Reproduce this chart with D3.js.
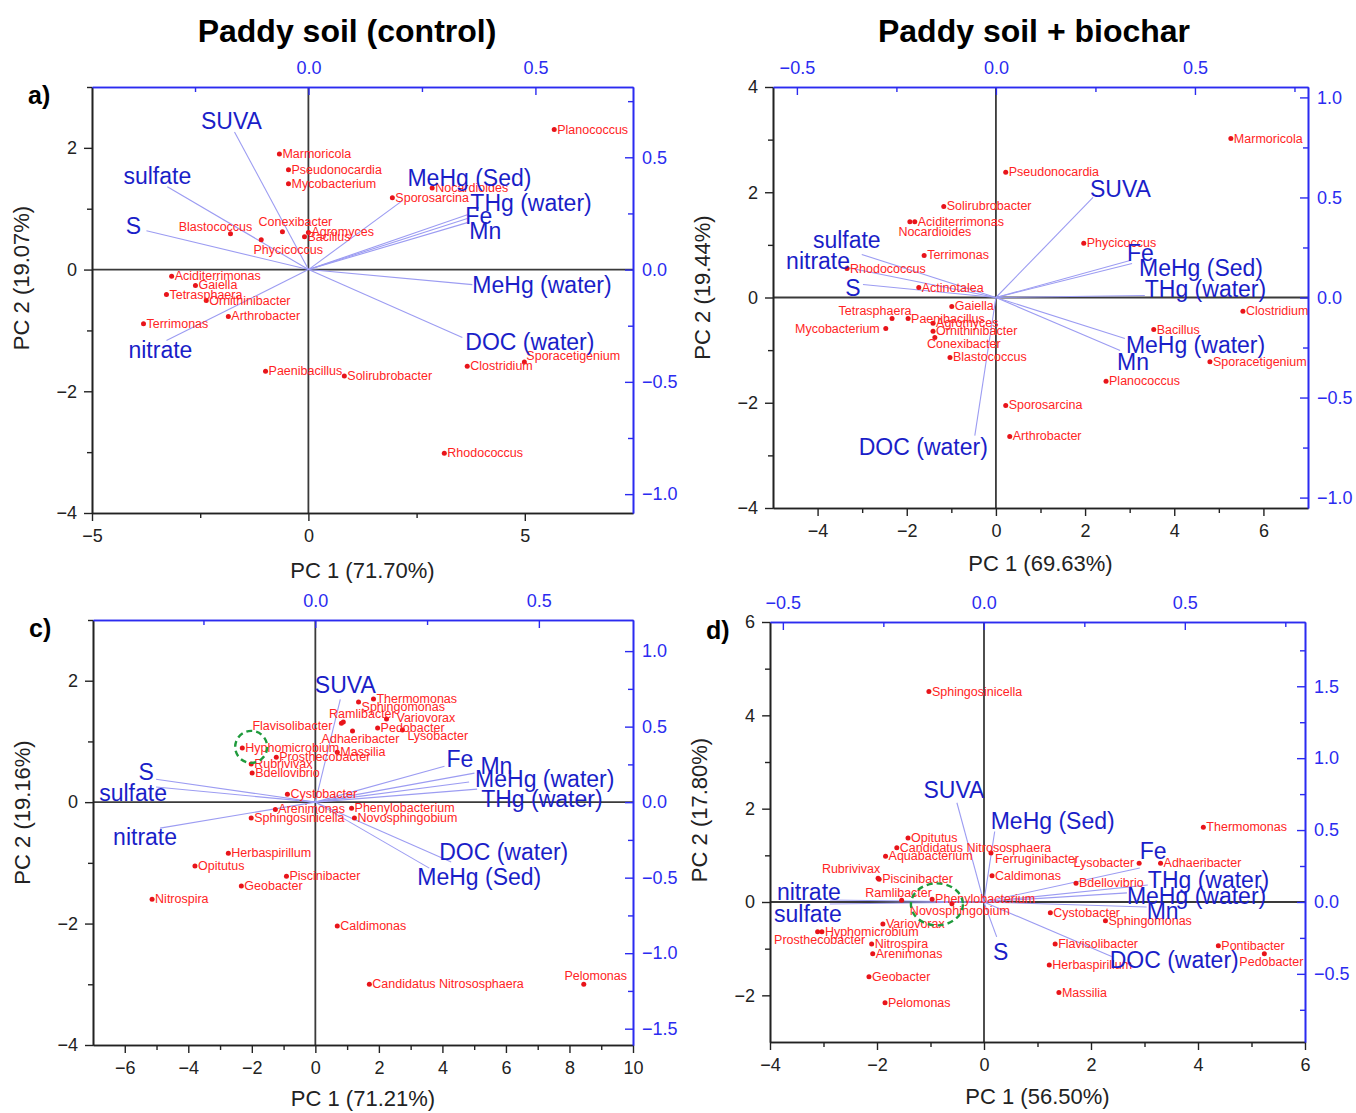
<!DOCTYPE html>
<html>
<head>
<meta charset="utf-8">
<script src="https://cdn.jsdelivr.net/npm/d3@7"></script>
<style>
  body { margin: 0; background: #fff; }
  text { font-family: "Liberation Sans", Arial, sans-serif; }
</style>
</head>
<body>
<div id="chart"></div>
<script>
// PCA biplots, paddy soil with / without biochar

// a) control, 16S taxa
const aTaxa = ["Planococcus","Marmoricola","Pseudonocardia","Mycobacterium","Nocardioides","Sporosarcina","Blastococcus","Conexibacter","Phycicoccus","Agromyces","Bacillus","Aciditerrimonas","Gaiella","Tetrasphaera","Ornithinibacter","Arthrobacter","Terrimonas","Paenibacillus","Solirubrobacter","Clostridium","Sporacetigenium","Rhodococcus"];
const aPC1 = [5.68,-0.67,-0.46,-0.46,2.86,1.94,-1.80,-0.60,-1.09,0.0,-0.09,-3.16,-2.61,-3.28,-2.36,-1.85,-3.81,-0.99,0.83,3.67,4.99,3.14];
const aPC2 = [2.30,1.90,1.64,1.41,1.34,1.18,0.59,0.62,0.49,0.61,0.54,-0.11,-0.26,-0.41,-0.51,-0.77,-0.89,-1.67,-1.75,-1.59,-1.52,-3.02];

// b) biochar, 16S taxa
const bTaxa = ["Marmoricola","Pseudonocardia","Solirubrobacter","Nocardioides","Aciditerrimonas","Terrimonas","Rhodococcus","Actinotalea","Gaiella","Tetrasphaera","Paenibacillus","Mycobacterium","Agromyces","Ornithinibacter","Conexibacter","Blastococcus","Phycicoccus","Clostridium","Bacillus","Sporacetigenium","Planococcus","Sporosarcina","Arthrobacter"];
const bPC1 = [5.27,0.22,-1.17,-1.93,-1.82,-1.61,-3.34,-1.73,-0.99,-2.33,-1.97,-2.47,-1.41,-1.41,-1.37,-1.03,1.97,5.54,3.54,4.80,2.47,0.22,0.31];
const bPC2 = [3.02,2.38,1.73,1.44,1.44,0.80,0.55,0.19,-0.17,-0.40,-0.40,-0.59,-0.49,-0.64,-0.76,-1.14,1.03,-0.26,-0.61,-1.22,-1.59,-2.05,-2.64];

// c) control, second community
const cTaxa = ["Thermomonas","Sphingomonas","Ramlibacter","Flavisolibacter","Variovorax","Pedobacter","Lysobacter","Adhaeribacter","Massilia","Hyphomicrobium","Prosthecobacter","Rubrivivax","Bdellovibrio","Cystobacter","Arenimonas","Sphingosinicella","Phenylobacterium","Novosphingobium","Herbaspirillum","Opitutus","Piscinibacter","Geobacter","Nitrospira","Caldimonas","Candidatus Nitrososphaera","Pelomonas"];
const cPC1 = [1.83,1.36,0.82,0.88,2.24,1.96,2.74,1.17,0.69,-2.30,-1.23,-2.02,-1.99,-0.88,-1.26,-2.02,1.14,1.23,-2.74,-3.79,-0.91,-2.33,-5.14,0.69,1.70,8.45];
const cPC2 = [1.70,1.65,1.30,1.32,1.37,1.22,1.19,1.17,0.82,0.89,0.74,0.63,0.48,0.13,-0.12,-0.26,-0.10,-0.26,-0.84,-1.05,-1.22,-1.38,-1.60,-2.04,-3.00,-3.00];

// d) biochar, second community
const dTaxa = ["Sphingosinicella","Opitutus","Candidatus Nitrososphaera","Aquabacterium","Ferruginibacter","Caldimonas","Rubrivivax","Piscinibacter","Ramlibacter","Phenylobacterium","Novosphingobium","Variovorax","Hyphomicrobium","Prosthecobacter","Nitrospira","Arenimonas","Geobacter","Pelomonas","Thermomonas","Lysobacter","Adhaeribacter","Bdellovibrio","Cystobacter","Sphingomonas","Flavisolibacter","Herbaspirillum","Massilia","Pontibacter","Pedobacter"];
const dPC1 = [-1.03,-1.42,-1.63,-1.84,0.13,0.15,-1.98,-1.96,-1.54,-0.97,-0.60,-1.89,-3.03,-3.11,-2.10,-2.08,-2.15,-1.85,4.10,2.90,3.30,1.72,1.24,2.27,1.33,1.22,1.40,4.38,5.24];
const dPC2 = [4.51,1.37,1.16,0.98,1.05,0.56,0.51,0.49,0.04,0.06,-0.04,-0.47,-0.64,-0.64,-0.90,-1.11,-1.60,-2.16,1.60,0.83,0.83,0.40,-0.23,-0.40,-0.90,-1.35,-1.94,-0.94,-1.11];

// environmental variables (loadings)
const envVars = ["THg (water)","MeHg (water)","MeHg (Sed)","DOC (water)","SUVA","Fe","Mn","S","sulfate","nitrate"];
const aLoad1 = [0.350,0.361,0.207,0.339,-0.163,0.350,0.350,-0.357,-0.311,-0.313];
const aLoad2 = [0.244,-0.067,0.307,-0.302,0.613,0.227,0.209,0.173,0.369,-0.316];
const bLoad1 = [0.374,0.324,0.342,-0.053,0.244,0.337,0.312,-0.334,-0.337,-0.374];
const bLoad2 = [0.010,-0.205,0.170,-0.690,0.500,0.185,-0.265,0.065,0.215,0.150];
const cLoad1 = [0.362,0.344,0.255,0.304,0.056,0.289,0.356,-0.356,-0.356,-0.347];
const cLoad2 = [0.086,0.133,-0.437,-0.397,0.680,0.238,0.192,0.152,0.100,-0.172];
const dLoad1 = [0.408,0.356,0.027,0.318,-0.067,0.388,0.405,0.032,-0.383,-0.383];
const dLoad2 = [0.118,0.063,0.490,-0.380,0.690,0.236,-0.035,-0.243,-0.014,0.014];

const pc1Titles = ["PC 1 (71.70%)","PC 1 (69.63%)","PC 1 (71.21%)","PC 1 (56.50%)"];
const pc2Titles = ["PC 2 (19.07%)","PC 2 (19.44%)","PC 2 (19.16%)","PC 2 (17.80%)"];
const columnTitles = ["Paddy soil (control)","Paddy soil + biochar"];

// label placement tweaks [dx, dy, anchor]
const taxNudge = [
  {Blastococcus:[-15,-3,"middle"], Conexibacter:[13,-6,"middle"], Phycicoccus:[27,14,"middle"], Sporacetigenium:[2,-2,"start"]},
  {Nocardioides:[25,14,"middle"], Tetrasphaera:[-17,-4,"middle"], Mycobacterium:[-6,4,"end"], Conexibacter:[29,11,"middle"]},
  {Flavisolibacter:[-11,8,"end"], Ramlibacter:[21,-5,"middle"], Lysobacter:[5,10,"start"], Adhaeribacter:[8,12,"middle"], Pelomonas:[12,-4,"middle"], Sphingomonas:[3,9,"start"], Variovorax:[10,3,"start"]},
  {Rubrivivax:[-27,-5,"middle"], Ramlibacter:[-3,-3,"middle"], Novosphingobium:[8,11,"middle"], Prosthecobacter:[2,12,"middle"], Lysobacter:[-5,4,"end"], Pedobacter:[7,12,"middle"], Ferruginibacter:[4,10,"start"]}
];
const varNudge = [
  {"SUVA":[-3,-3,"middle"], "sulfate":[-10,-3,"middle"], "S":[-13,3,"middle"], "nitrate":[-6,17,"middle"], "MeHg (Sed)":[5,-15,"start"], "THg (water)":[3,-4,"start"], "Fe":[-2,5,"start"], "Mn":[2,16,"start"], "MeHg (water)":[0,8,"start"], "DOC (water)":[3,13,"start"]},
  {"sulfate":[-15,-6,"middle"], "nitrate":[3,2,"end"], "S":[-10,12,"middle"], "SUVA":[-3,0,"start"], "Fe":[-3,1,"start"], "MeHg (Sed)":[7,13,"start"], "THg (water)":[0,2,"start"], "MeHg (water)":[1,14,"start"], "Mn":[-3,19,"start"], "DOC (water)":[13,19,"end"]},
  {"SUVA":[5,-6,"middle"], "S":[-10,1,"middle"], "sulfate":[-23,14,"middle"], "nitrate":[-15,17,"middle"], "Fe":[2,1,"start"], "Mn":[6,1,"start"], "MeHg (water)":[6,5,"start"], "THg (water)":[4,18,"start"], "DOC (water)":[-12,-2,"start"], "MeHg (Sed)":[-12,17,"start"]},
  {"SUVA":[-3,-5,"middle"], "MeHg (Sed)":[-4,-2,"start"], "nitrate":[-21,0,"middle"], "sulfate":[-22,18,"middle"], "S":[4,23,"middle"], "Fe":[0,-9,"start"], "THg (water)":[0,3,"start"], "MeHg (water)":[0,11,"start"], "Mn":[0,12,"start"], "DOC (water)":[-2,11,"start"]}
];

const panels = [
  {letter:"a)", taxa:aTaxa, pc1:aPC1, pc2:aPC2, l1:aLoad1, l2:aLoad2,
   box:[92,87,633,513], xDom:[-5,7.5], yDom:[-4,3], topDom:[-0.477,0.715], rightDom:[-1.084,0.813],
   xMajor:[-5,0,5], xMinor:[-2.5,2.5], yMajor:[-4,-2,0,2], yMinor:[-3,-1,1,3],
   tMajor:[0,0.5], tMinor:[-0.25,0.25], rMajor:[-1,-0.5,0,0.5], rMinor:[-0.75,-0.25,0.25,0.75],
   yTitleShift:-22, xTitleGap:65},
  {letter:"", taxa:bTaxa, pc1:bPC1, pc2:bPC2, l1:bLoad1, l2:bLoad2,
   box:[773,87,1308,508], xDom:[-5,7], yDom:[-4,4], topDom:[-0.560,0.784], rightDom:[-1.052,1.052],
   xMajor:[-4,-2,0,2,4,6], xMinor:[-3,-1,1,3,5], yMajor:[-4,-2,0,2,4], yMinor:[-3,-1,1,3],
   tMajor:[-0.5,0,0.5], tMinor:[-0.25,0.25,0.75], rMajor:[-1,-0.5,0,0.5,1], rMinor:[-0.75,-0.25,0.25,0.75],
   yTitleShift:-10, xTitleGap:63},
  {letter:"c)", taxa:cTaxa, pc1:cPC1, pc2:cPC2, l1:cLoad1, l2:cLoad2,
   box:[93,620,633,1045], xDom:[-7,10], yDom:[-4,3], topDom:[-0.497,0.7105], rightDom:[-1.608,1.206],
   xMajor:[-6,-4,-2,0,2,4,6,8,10], xMinor:[-5,-3,-1,1,3,5,7,9], yMajor:[-4,-2,0,2], yMinor:[-3,-1,1,3],
   tMajor:[0,0.5], tMinor:[-0.25,0.25], rMajor:[-1.5,-1,-0.5,0,0.5,1], rMinor:[-1.25,-0.75,-0.25,0.25,0.75],
   yTitleShift:-20, xTitleGap:61, circle:[-2.02,0.91,16,16]},
  {letter:"d)", taxa:dTaxa, pc1:dPC1, pc2:dPC2, l1:dLoad1, l2:dLoad2,
   box:[770,622,1305,1042], xDom:[-4,6], yDom:[-3,6], topDom:[-0.532,0.799], rightDom:[-0.974,1.947],
   xMajor:[-4,-2,0,2,4,6], xMinor:[-3,-1,1,3,5], yMajor:[-2,0,2,4,6], yMinor:[-1,1,3,5],
   tMajor:[-0.5,0,0.5], tMinor:[-0.25,0.25,0.75], rMajor:[-0.5,0,0.5,1,1.5], rMinor:[-0.75,-0.25,0.25,0.75,1.25,1.75],
   yTitleShift:-22, xTitleGap:62, circle:[-0.88,-0.05,26,21]}
];

const blueAxis = "#2b2bf0";
const blueText = "#1a1ec8";
const arrowCol = "#9c9cf2";
const redCol = "#ff2424";

const svg = d3.select("#chart").append("svg")
  .attr("width", 1356).attr("height", 1113)
  .style("background", "#fff");

svg.selectAll("text.coltitle")
  .data(columnTitles)
  .enter().append("text")
  .attr("x", (d, i) => i === 0 ? 347 : 1034)
  .attr("y", 42)
  .attr("text-anchor", "middle")
  .style("font-size", "32px").style("font-weight", "bold")
  .text(d => d);

function styleAxis(g, col, fs) {
  g.select(".domain").attr("stroke", col).attr("stroke-width", 1.6);
  g.selectAll(".tick line").attr("stroke", col).attr("stroke-width", 1.4);
  g.selectAll(".tick text").attr("fill", col).style("font-size", fs + "px");
}

panels.forEach((p, pi) => {
  const [L, T, R, B] = p.box;
  const x = d3.scaleLinear().domain(p.xDom).range([L, R]);
  const y = d3.scaleLinear().domain(p.yDom).range([B, T]);
  const xl = d3.scaleLinear().domain(p.topDom).range([L, R]);
  const yl = d3.scaleLinear().domain(p.rightDom).range([B, T]);
  const g = svg.append("g");

  // zero lines
  g.append("line").attr("x1", L).attr("x2", R).attr("y1", y(0)).attr("y2", y(0))
    .attr("stroke", "#3a3a3a").attr("stroke-width", 1.8);
  g.append("line").attr("x1", x(0)).attr("x2", x(0)).attr("y1", T).attr("y2", B)
    .attr("stroke", "#3a3a3a").attr("stroke-width", 1.8);

  // loading vectors
  const vars = envVars.map((v, i) => ({name: v, a: p.l1[i], b: p.l2[i]}));
  g.selectAll("line.vec").data(vars).enter().append("line")
    .attr("x1", xl(0)).attr("y1", yl(0))
    .attr("x2", d => xl(d.a)).attr("y2", d => yl(d.b))
    .attr("stroke", arrowCol).attr("stroke-width", 1.1);

  // taxa scores
  const taxa = p.taxa.map((t, i) => ({name: t, a: p.pc1[i], b: p.pc2[i]}));
  g.selectAll("circle.pt").data(taxa).enter().append("circle")
    .attr("cx", d => x(d.a)).attr("cy", d => y(d.b)).attr("r", 2.5)
    .attr("fill", "#e8141a");
  g.selectAll("text.tax").data(taxa).enter().append("text")
    .attr("x", d => x(d.a) + (taxNudge[pi][d.name] || [3, 4, "start"])[0])
    .attr("y", d => y(d.b) + (taxNudge[pi][d.name] || [3, 4, "start"])[1])
    .attr("text-anchor", d => (taxNudge[pi][d.name] || [3, 4, "start"])[2])
    .attr("fill", redCol).style("font-size", "12.5px")
    .text(d => d.name);

  g.selectAll("text.var").data(vars).enter().append("text")
    .attr("x", d => xl(d.a) + varNudge[pi][d.name][0])
    .attr("y", d => yl(d.b) + varNudge[pi][d.name][1])
    .attr("text-anchor", d => varNudge[pi][d.name][2])
    .attr("fill", blueText).style("font-size", "23px")
    .text(d => d.name);

  if (p.circle) {
    g.append("ellipse")
      .attr("cx", x(p.circle[0])).attr("cy", y(p.circle[1]))
      .attr("rx", p.circle[2]).attr("ry", p.circle[3])
      .attr("fill", "none").attr("stroke", "#1f9a3c").attr("stroke-width", 2.4)
      .attr("stroke-dasharray", "6,4");
  }

  // axes: bottom/left black outward, top/right blue inward
  const intFmt = d3.format("d");
  const decFmt = d3.format(".1f");
  const gb = g.append("g").attr("transform", `translate(0,${B})`)
    .call(d3.axisBottom(x).tickValues(p.xMajor).tickFormat(intFmt).tickSize(8).tickSizeOuter(0).tickPadding(8));
  g.append("g").attr("transform", `translate(0,${B})`)
    .call(d3.axisBottom(x).tickValues(p.xMinor).tickFormat("").tickSize(5).tickSizeOuter(0))
    .call(a => styleAxis(a, "#222", 16));
  styleAxis(gb, "#222", 18);

  const gy = g.append("g").attr("transform", `translate(${L},0)`)
    .call(d3.axisLeft(y).tickValues(p.yMajor).tickFormat(intFmt).tickSize(8).tickSizeOuter(0).tickPadding(7));
  g.append("g").attr("transform", `translate(${L},0)`)
    .call(d3.axisLeft(y).tickValues(p.yMinor).tickFormat("").tickSize(5).tickSizeOuter(0))
    .call(a => styleAxis(a, "#222", 16));
  styleAxis(gy, "#222", 18);

  const gt = g.append("g").attr("transform", `translate(0,${T})`)
    .call(d3.axisTop(xl).tickValues(p.tMajor).tickFormat(decFmt).tickSize(-8).tickSizeOuter(0).tickPadding(13));
  g.append("g").attr("transform", `translate(0,${T})`)
    .call(d3.axisTop(xl).tickValues(p.tMinor).tickFormat("").tickSize(-5).tickSizeOuter(0))
    .call(a => styleAxis(a, blueAxis, 16));
  styleAxis(gt, blueAxis, 18);

  const gr = g.append("g").attr("transform", `translate(${R},0)`)
    .call(d3.axisRight(yl).tickValues(p.rMajor).tickFormat(decFmt).tickSize(-8).tickSizeOuter(0).tickPadding(9));
  g.append("g").attr("transform", `translate(${R},0)`)
    .call(d3.axisRight(yl).tickValues(p.rMinor).tickFormat("").tickSize(-5).tickSizeOuter(0))
    .call(a => styleAxis(a, blueAxis, 16));
  styleAxis(gr, blueAxis, 18);

  // axis titles
  g.append("text")
    .attr("x", (L + R) / 2).attr("y", B + p.xTitleGap)
    .attr("text-anchor", "middle").style("font-size", "22px").attr("fill", "#222")
    .text(pc1Titles[pi]);
  const cy = (T + B) / 2 + p.yTitleShift;
  g.append("text")
    .attr("transform", `translate(${L - 63},${cy}) rotate(-90)`)
    .attr("text-anchor", "middle").style("font-size", "22px").attr("fill", "#222")
    .text(pc2Titles[pi]);

  if (p.letter) {
    g.append("text")
      .attr("x", L - 64).attr("y", T + 17)
      .style("font-size", "25px").style("font-weight", "bold")
      .text(p.letter);
  }
});
</script>
</body>
</html>
